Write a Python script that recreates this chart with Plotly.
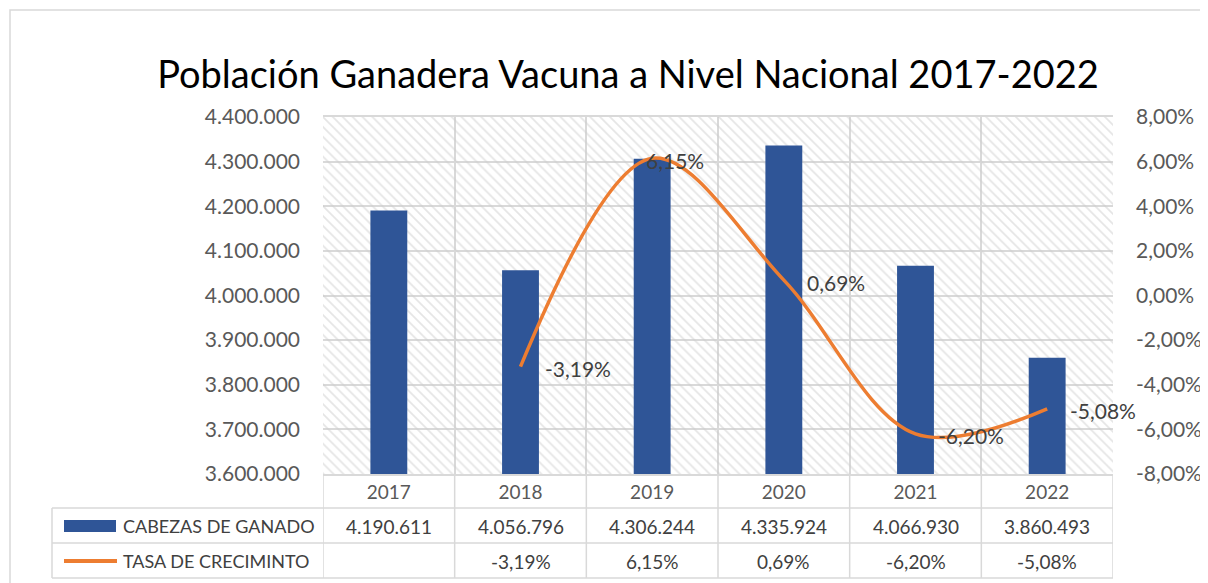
import plotly.graph_objects as go

# ---- data ----
years = ["2017", "2018", "2019", "2020", "2021", "2022"]
cabezas = [4190611, 4056796, 4306244, 4335924, 4066930, 3860493]
tasa = [None, -0.0319, 0.0615, 0.0069, -0.0620, -0.0508]
series_names = ["CABEZAS DE GANADO", "TASA DE CRECIMINTO"]
title_text = "Población Ganadera Vacuna a Nivel Nacional 2017-2022"
y1_ticks = [3600000, 3700000, 3800000, 3900000, 4000000, 4100000, 4200000, 4300000, 4400000]
y2_ticks = [-0.08, -0.06, -0.04, -0.02, 0.0, 0.02, 0.04, 0.06, 0.08]

# ---- layout geometry (page pixels; page body has an 8px offset) ----
OX, OY = 8, 8
W, H = 1208 - OX, 583 - OY
L, R, T, B = 323, 1113, 117, 474
Y_MIN, Y_MAX = 3600000, 4400000
BLUE = "#2F5597"
ORANGE = "#ED7D31"
GRID = "#D9D9D9"
TXT = "#595959"
FONT = "Lato"
label_shift = [0, 22, -8, 21, 20, 21]   # horizontal offsets of the line's data labels (px)


def px_x(p):
    return (p - L) / (R - L)


def px_y(p):
    return (B - p) / (B - T)


def fmt_int(v):
    return f"{v:,}".replace(",", ".")


def fmt_pct(v):
    return "" if v is None else f"{v*100:.2f}%".replace(".", ",")


fig = go.Figure()

# hatched plot-area background
fig.add_trace(go.Bar(
    x=years, y=[Y_MAX - Y_MIN] * len(years), base=Y_MIN, width=1,
    marker=dict(color="rgba(0,0,0,0)", line=dict(width=0),
                pattern=dict(shape="\\", fgcolor="#CCCCCC", size=7, solidity=0.25, fillmode="overlay")),
    hoverinfo="skip", showlegend=False,
))

fig.add_trace(go.Bar(
    x=years, y=cabezas, name=series_names[0], width=0.28,
    marker=dict(color=BLUE, line=dict(width=0)), showlegend=False,
))

fig.add_trace(go.Scatter(
    x=years, y=tasa, name=series_names[1], yaxis="y2", mode="lines",
    line=dict(color=ORANGE, width=3.5, shape="spline", smoothing=1.0),
    connectgaps=False, showlegend=False,
))

shapes = []
line_style = dict(color=GRID, width=1.5)
for i in range(len(years) + 1):
    shapes.append(dict(type="line", xref="x", yref="paper", x0=i - 0.5, x1=i - 0.5,
                       y0=px_y(578), y1=0, line=line_style, layer="below"))
shapes.append(dict(type="line", xref="paper", yref="paper", x0=px_x(52), x1=px_x(52),
                   y0=px_y(578), y1=px_y(508), line=line_style))
for py in (508, 543, 578):
    shapes.append(dict(type="line", xref="paper", yref="paper", x0=px_x(52), x1=1,
                       y0=px_y(py), y1=px_y(py), line=line_style))
shapes.append(dict(type="rect", xref="paper", yref="paper", x0=px_x(10), x1=px_x(1230),
                   y0=px_y(620), y1=px_y(10), line=dict(color="#D9D9D9", width=1.5)))
shapes.append(dict(type="rect", xref="paper", yref="paper", x0=px_x(64), x1=px_x(116),
                   y0=px_y(532), y1=px_y(520), fillcolor=BLUE, line=dict(width=0)))
shapes.append(dict(type="line", xref="paper", yref="paper", x0=px_x(64), x1=px_x(117),
                   y0=px_y(561), y1=px_y(561), line=dict(color=ORANGE, width=4)))

annotations = []
name_font = dict(family=FONT, size=18, color="#404040")
cell_font = dict(family=FONT, size=19, color="#404040")
label_font = dict(family=FONT, size=21, color="#404040")
annotations.append(dict(text=series_names[0], xref="paper", yref="paper", x=px_x(121), y=px_y(526),
                        xanchor="left", yanchor="middle", showarrow=False, font=name_font))
annotations.append(dict(text=series_names[1], xref="paper", yref="paper", x=px_x(121), y=px_y(561),
                        xanchor="left", yanchor="middle", showarrow=False, font=name_font))
for i, (c, t) in enumerate(zip(cabezas, tasa)):
    annotations.append(dict(text=fmt_int(c), xref="x", yref="paper", x=i, y=px_y(526),
                            xanchor="center", yanchor="middle", showarrow=False, font=cell_font))
    annotations.append(dict(text=fmt_pct(t), xref="x", yref="paper", x=i, y=px_y(561),
                            xanchor="center", yanchor="middle", showarrow=False, font=cell_font))
    if t is not None:
        annotations.append(dict(text=fmt_pct(t), xref="x", yref="y2", x=i, y=t,
                                xanchor="left", yanchor="middle", xshift=label_shift[i], yshift=-2,
                                showarrow=False, font=label_font))

fig.update_layout(
    width=W, height=H,
    margin=dict(l=L - OX, r=1208 - R, t=T - OY, b=583 - B, autoexpand=False),
    paper_bgcolor="white", plot_bgcolor="white",
    separators=",.",
    barmode="overlay",
    title=dict(text=title_text, x=(628 - OX) / W, xanchor="center", y=1 - (75 - OY) / H, yanchor="middle",
               font=dict(family=FONT, size=38, color="#000000")),
    font=dict(family=FONT, color=TXT),
    xaxis=dict(type="category", tickson="boundaries", showgrid=True, gridcolor=GRID, gridwidth=1.5,
               showline=True, linecolor=GRID, linewidth=1.5, mirror=True,
               tickfont=dict(family=FONT, size=19, color=TXT), ticks="", ticklabelstandoff=0,
               range=[-0.5, 5.5], fixedrange=True),
    yaxis=dict(range=[Y_MIN, Y_MAX], tickvals=y1_ticks, ticktext=[fmt_int(v) for v in y1_ticks],
               showgrid=True, gridcolor=GRID, gridwidth=1.5, zeroline=False, ticks="", ticklabelstandoff=22,
               tickfont=dict(family=FONT, size=21, color=TXT)),
    yaxis2=dict(range=[-0.08, 0.08], tickvals=y2_ticks, ticktext=[fmt_pct(v) for v in y2_ticks],
                overlaying="y", side="right",
                showgrid=False, zeroline=False, ticks="", ticklabelstandoff=22,
                tickfont=dict(family=FONT, size=21, color=TXT)),
    shapes=shapes, annotations=annotations,
)

fig.write_html("out.html")
